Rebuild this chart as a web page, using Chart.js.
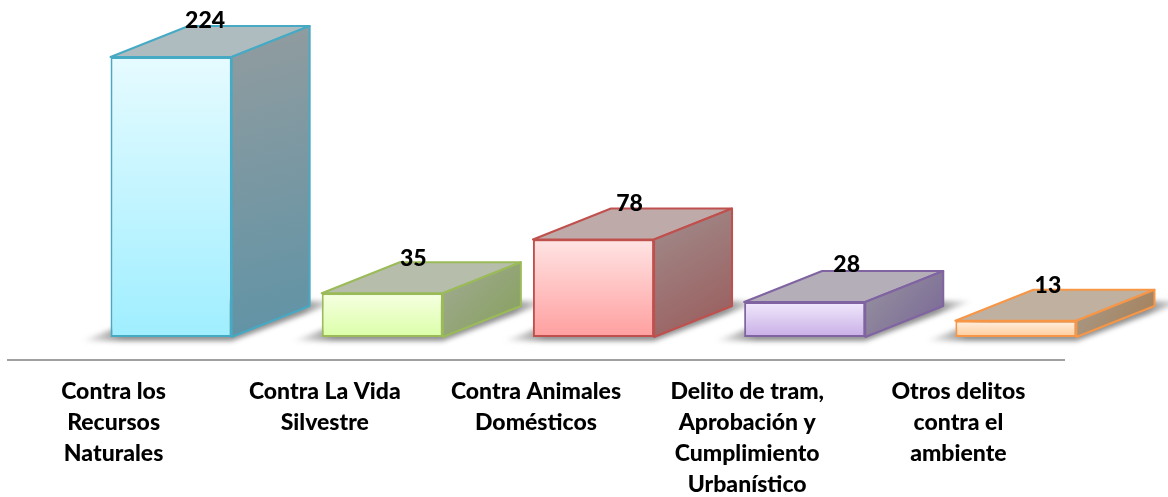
<html>
<head>
  <meta charset="utf-8">
  <style>
    body{
      margin: 0;
      background: #FFF;
    }
  </style>
  <script src="https://cdn.jsdelivr.net/npm/chart.js"></script>
</head>
<body>
<canvas id="myChart" width="1168" height="497" style="display:block"></canvas>

<script>
  var categories = [
    ['Contra los', 'Recursos', 'Naturales'],
    ['Contra La Vida', 'Silvestre'],
    ['Contra Animales', 'Domésticos'],
    ['Delito de tram,', 'Aprobación y', 'Cumplimiento', 'Urbanístico'],
    ['Otros delitos', 'contra el', 'ambiente']
  ];
  var delitos = [224, 35, 78, 28, 13];

  // colours per bar: border, front top, front bottom, top face, side top, side bottom
  var borders = ['#46aac4', '#9bbb59', '#c0504d', '#8064a2', '#f79646'];
  var frontTop = ['#e6fbff', '#f6ffe2', '#ffe4e4', '#f1e9fc', '#fff0e2'];
  var frontBottom = ['#9feeff', '#dbffa8', '#ff9f9f', '#c8aee6', '#ffcb98'];
  var topFaces = ['#aebcc0', '#b6bdab', '#bfaaaa', '#b3aeb8', '#bfb0a0'];
  var sideTop = ['#929c9f', '#a3aa95', '#a18d8d', '#98949f', '#a89a88'];
  var sideBottom = ['#5f93a6', '#84a05a', '#9a5a5a', '#786696', '#a57f58'];

  // fake 3d projection
  var depthX = 78, depthY = 31;
  var shiftX = 57.5, shiftY = -23;
  var labelDx = [34, 31, 36, 42, 32];
  var labelDy = [-36, -35, -36, -37, -35];

  var box3d = {
    id: 'box3d',
    beforeDatasetDraw: function(chart) {
      var c = chart.ctx;
      var bars = chart.getDatasetMeta(0).data;
      c.save();
      c.translate(shiftX, shiftY);

      // floor shadows first, neighbours sit on top of them
      bars.forEach(function(b) {
        var l = b.x - b.width / 2, r = b.x + b.width / 2, f = b.base;
        var g = c.createLinearGradient(l - 30, 0, r + depthX + 30, 0);
        g.addColorStop(0, 'rgba(70,70,70,0)');
        g.addColorStop(0.16, 'rgba(70,70,70,.6)');
        g.addColorStop(0.86, 'rgba(70,70,70,.6)');
        g.addColorStop(1, 'rgba(70,70,70,0)');
        c.save();
        c.filter = 'blur(2.5px)';
        c.fillStyle = g;
        c.beginPath();
        c.moveTo(l - 30, f + 4);
        c.lineTo(r, f + 4);
        c.lineTo(r + depthX + 30, f - depthY - 5);
        c.lineTo(l + depthX, f - depthY - 5);
        c.closePath();
        c.fill();
        c.restore();
      });

      bars.forEach(function(b, i) {
        var l = b.x - b.width / 2, r = b.x + b.width / 2, t = b.y, f = b.base;
        c.lineWidth = 2;
        c.lineJoin = 'round';
        c.strokeStyle = borders[i];

        c.fillStyle = topFaces[i];
        c.beginPath();
        c.moveTo(l, t);
        c.lineTo(l + depthX, t - depthY);
        c.lineTo(r + depthX, t - depthY);
        c.lineTo(r, t);
        c.closePath();
        c.fill();
        c.stroke();

        var g = c.createLinearGradient(r, t - depthY, r + depthX, f);
        g.addColorStop(0, sideTop[i]);
        g.addColorStop(1, sideBottom[i]);
        c.fillStyle = g;
        c.beginPath();
        c.moveTo(r, t);
        c.lineTo(r + depthX, t - depthY);
        c.lineTo(r + depthX, f - depthY);
        c.lineTo(r, f);
        c.closePath();
        c.fill();
        c.stroke();
      });
    },
    afterDatasetDraw: function(chart) {
      chart.ctx.restore();
    },
    afterDatasetsDraw: function(chart) {
      var c = chart.ctx;
      c.save();
      c.font = '900 23px Lato';
      c.fillStyle = '#000';
      c.textAlign = 'center';
      c.textBaseline = 'middle';
      chart.getDatasetMeta(0).data.forEach(function(b, i) {
        c.fillText(delitos[i], b.x + shiftX + labelDx[i], b.y + shiftY + labelDy[i]);
      });
      c.restore();
    }
  };

  // gradient runs in the chart's own coords, the canvas is already shifted when it fills
  function frontFill(ctx) {
    var chart = ctx.chart;
    if (!chart.chartArea) return frontBottom[ctx.dataIndex];
    var y = chart.scales.y;
    var g = chart.ctx.createLinearGradient(0, y.getPixelForValue(ctx.raw), 0, y.getPixelForValue(0));
    g.addColorStop(0, frontTop[ctx.dataIndex]);
    g.addColorStop(1, frontBottom[ctx.dataIndex]);
    return g;
  }

  new Chart(document.getElementById('myChart'), {
    type: 'bar',
    data: {
      labels: categories,
      datasets: [{
        data: delitos,
        backgroundColor: frontFill,
        borderColor: borders,
        borderWidth: 2,
        borderSkipped: false,
        categoryPercentage: 1,
        barPercentage: 0.5735,
        clip: false
      }]
    },
    plugins: [box3d],
    options: {
      responsive: false,
      animation: false,
      layout: { padding: { left: 8, right: 104, top: 10, bottom: 0 } },
      plugins: {
        legend: { display: false },
        title: { display: false },
        tooltip: { enabled: false }
      },
      scales: {
        x: {
          afterFit: function(scale) { scale.height = 137; },
          grid: { display: false },
          border: { color: '#a0a0a0', width: 2 },
          ticks: {
            color: '#000',
            padding: 8,
            autoSkip: false,
            maxRotation: 0,
            font: { family: 'Lato', weight: '900', size: 23, lineHeight: 1.348 }
          }
        },
        y: { display: false, min: 0, max: 280 }
      }
    }
  });
</script>
</body>
</html>
